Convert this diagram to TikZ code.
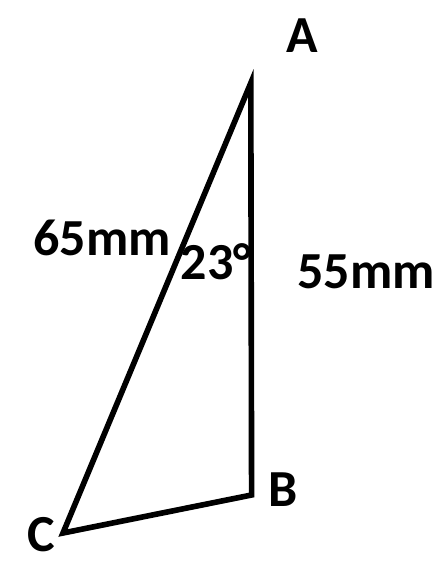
\documentclass[tikz,border=0pt]{standalone}
\usepackage{fontspec}
\setmainfont{Carlito}
\begin{document}
\begin{tikzpicture}[lbl/.style={font=\fontsize{37}{42}\selectfont\bfseries}]
\useasboundingbox (0,0) rectangle (11.025,14.425);
\coordinate (A) at (6.27,12.35);
\coordinate (B) at (6.29,2.05);
\coordinate (C) at (1.575,1.1);
\draw [line width=4pt,line join=miter](A) -- (B) -- (C) -- cycle;
\node [lbl] (labA) at (7.55,13.525) {A};
\node [lbl] (labB) at (7.075,2.175) {B};
\node [lbl] (labC) at (1.025,1.05) {C};
\node [lbl] (hyp) at (2.55,8.475) {65mm};
\node [lbl] (ang) at (5.4,7.875) {23°};
\node [lbl] (side) at (9.15,7.625) {55mm};
\end{tikzpicture}
\end{document}
